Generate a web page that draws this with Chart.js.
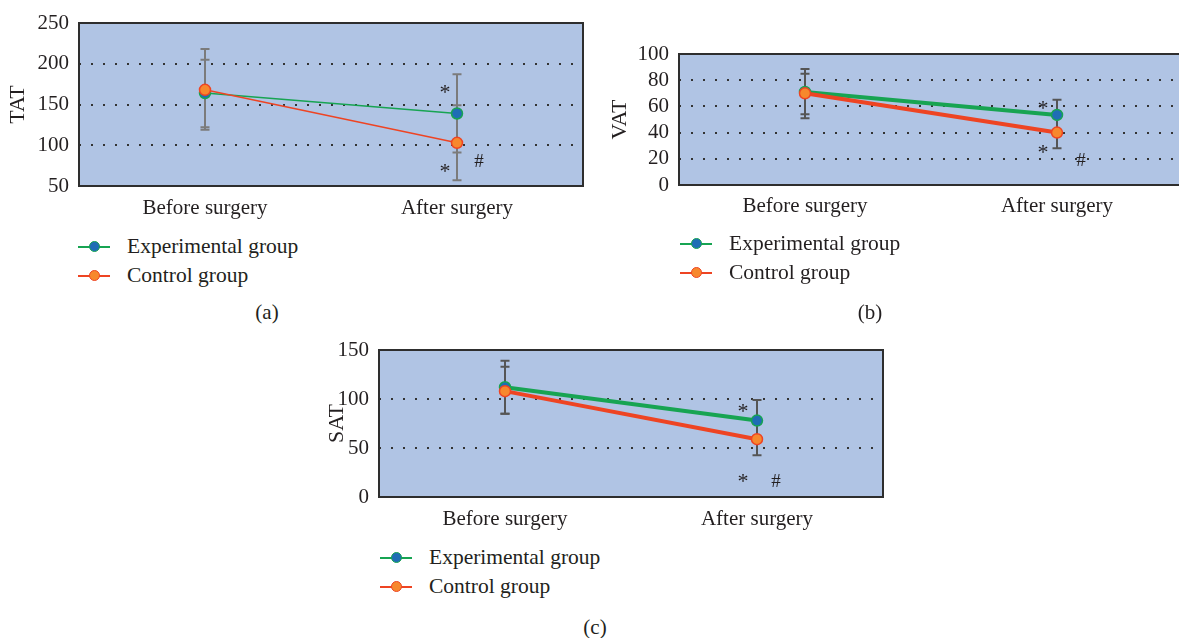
<!DOCTYPE html>
<html>
<head>
<meta charset="utf-8">
<script src="https://cdn.jsdelivr.net/npm/chart.js@4"></script>
<style>
    body {
        margin: 0;
        width: 1179px;
        height: 638px;
        overflow: hidden;
        position: relative;
        background: #fff;
        font-family: "Liberation Serif", serif;
        color: #231f20;
    }
    canvas {
        position: absolute;
    }
    .legend {
        position: absolute;
        font-size: 21.5px;
        line-height: 29px;
    }
    .legend .row {
        display: flex;
        align-items: center;
        height: 29px;
    }
    .legend .sym {
        position: relative;
        width: 32px;
        height: 2px;
        margin-right: 17px;
    }
    .legend .sym::after {
        content: '';
        position: absolute;
        left: 11px;
        top: -5px;
        width: 9px;
        height: 9px;
        border-radius: 50%;
        border: 1.5px solid var(--edge);
        background: var(--fill);
    }
    .tag {
        position: absolute;
        font-size: 21px;
        transform: translate(-50%, -50%);
    }
</style>
</head>
<body>
<canvas id="chart-tat" width="600" height="232" style="left:0;top:0"></canvas>
<canvas id="chart-vat" width="600" height="232" style="left:600px;top:0"></canvas>
<canvas id="chart-sat" width="600" height="240" style="left:300px;top:300px"></canvas>

<div class="legend" style="left:78px;top:232px"></div>
<div class="legend" style="left:680px;top:229px"></div>
<div class="legend" style="left:380px;top:543px"></div>

<div class="tag" style="left:267px;top:312px">(a)</div>
<div class="tag" style="left:870px;top:312px">(b)</div>
<div class="tag" style="left:595px;top:627px">(c)</div>

<script>
const categories = ['Before surgery', 'After surgery'];
const seriesNames = ['Experimental group', 'Control group'];

// TAT
const tatExperimental = [164, 139];
const tatControl = [168, 103];
const tatExperimentalLow = [122, 91];
const tatExperimentalHigh = [205, 187];
const tatControlLow = [119, 57];
const tatControlHigh = [218, 149];
const tatMarkValues = [169, 72, 79];

// VAT
const vatExperimental = [71, 53.5];
const vatControl = [70, 40];
const vatExperimentalLow = [54, 42];
const vatExperimentalHigh = [88.5, 65];
const vatControlLow = [51, 28];
const vatControlHigh = [85, 52];
const vatMarkValues = [61, 27, 18.5];

// SAT
const satExperimental = [112, 78];
const satControl = [108, 59];
const satExperimentalLow = [85, 57];
const satExperimentalHigh = [139, 99];
const satControlLow = [85, 42.5];
const satControlHigh = [133, 75];
const satMarkValues = [91, 19.5, 15];

const markSymbols = ['*', '*', '#'];

const colors = {
    expLine: '#17a452',
    expFill: '#1f6db5',
    ctrlLine: '#ee4423',
    ctrlFill: '#f7882d',
    plotBg: '#b0c4e4',
    frame: '#2e2e2e',
    grid: '#333',
    text: '#231f20',
};

const fontFamily = '"Liberation Serif", serif';

const plotFrame = {
    id: 'plotFrame',
    beforeDraw(chart) {
        const { ctx, chartArea: a } = chart;
        ctx.save();
        ctx.fillStyle = colors.plotBg;
        ctx.fillRect(a.left, a.top, a.right - a.left, a.bottom - a.top);
        ctx.restore();
    },
    beforeDatasetsDraw(chart) {
        const { ctx, chartArea: a } = chart;
        ctx.save();
        ctx.strokeStyle = colors.frame;
        ctx.lineWidth = 2;
        ctx.strokeRect(a.left, a.top, a.right - a.left, a.bottom - a.top);
        ctx.restore();
    },
};

const errorBars = {
    id: 'errorBars',
    beforeDatasetsDraw(chart, args, opts) {
        const { ctx, scales } = chart;
        ctx.save();
        ctx.strokeStyle = opts.color;
        ctx.lineWidth = opts.width;
        opts.ranges.forEach(([low, high]) => {
            low.forEach((lo, i) => {
                const x = scales.x.getPixelForValue(i);
                const y1 = scales.y.getPixelForValue(lo);
                const y2 = scales.y.getPixelForValue(high[i]);
                ctx.beginPath();
                ctx.moveTo(x, y1);
                ctx.lineTo(x, y2);
                ctx.moveTo(x - opts.cap, y1);
                ctx.lineTo(x + opts.cap, y1);
                ctx.moveTo(x - opts.cap, y2);
                ctx.lineTo(x + opts.cap, y2);
                ctx.stroke();
            });
        });
        ctx.restore();
    },
};

const markers = {
    id: 'markers',
    afterDatasetsDraw(chart, args, opts) {
        const { ctx, scales } = chart;
        const x0 = scales.x.getPixelForValue(1);
        ctx.save();
        ctx.fillStyle = colors.text;
        ctx.textAlign = 'center';
        ctx.textBaseline = 'middle';
        opts.values.forEach((v, i) => {
            const sym = markSymbols[i];
            const y = scales.y.getPixelForValue(v);
            if (sym === '*') {
                ctx.font = '22px ' + fontFamily;
                ctx.fillText(sym, x0 + opts.dx[i], y + 4);
            } else {
                ctx.font = '19px ' + fontFamily;
                ctx.fillText(sym, x0 + opts.dx[i], y);
            }
        });
        ctx.restore();
    },
};

function makeChart(id, cfg) {
    const canvas = document.getElementById(id);
    const lastIndex = (ctx) => ctx.scale.ticks.length - 1;
    return new Chart(canvas, {
        type: 'line',
        data: {
            labels: categories,
            datasets: [
                {
                    label: seriesNames[0],
                    data: cfg.experimental,
                    borderColor: colors.expLine,
                    borderWidth: cfg.lineWidth,
                    pointBackgroundColor: colors.expFill,
                    pointBorderColor: colors.expLine,
                    pointBorderWidth: 1.5,
                    pointRadius: 5.5,
                    tension: 0,
                    order: 1,
                },
                {
                    label: seriesNames[1],
                    data: cfg.control,
                    borderColor: colors.ctrlLine,
                    borderWidth: cfg.lineWidth,
                    pointBackgroundColor: colors.ctrlFill,
                    pointBorderColor: colors.ctrlLine,
                    pointBorderWidth: 1.5,
                    pointRadius: 5.5,
                    tension: 0,
                    order: 0,
                },
            ],
        },
        options: {
            responsive: false,
            animation: false,
            devicePixelRatio: 1,
            layout: {
                padding: { top: cfg.top, right: 17, left: 0, bottom: 0 },
            },
            scales: {
                x: {
                    offset: true,
                    grid: { display: false },
                    border: { display: false },
                    ticks: {
                        color: colors.text,
                        padding: cfg.xPad,
                        font: { family: fontFamily, size: 21 },
                    },
                    afterFit: (scale) => {
                        scale.height = cfg.xHeight;
                    },
                },
                y: {
                    min: cfg.min,
                    max: cfg.max,
                    border: { display: false, dash: [2, 10] },
                    grid: {
                        drawTicks: false,
                        lineWidth: 2,
                        color: (ctx) => (ctx.index === 0 || ctx.index === lastIndex(ctx) ? 'rgba(0,0,0,0)' : colors.grid),
                    },
                    ticks: {
                        stepSize: cfg.step,
                        autoSkip: false,
                        color: colors.text,
                        padding: 10,
                        font: { family: fontFamily, size: 21 },
                    },
                    title: {
                        display: true,
                        text: cfg.title,
                        color: colors.text,
                        padding: { top: cfg.titlePad, bottom: 0 },
                        font: { family: fontFamily, size: 22 },
                    },
                    afterFit: (scale) => {
                        scale.width = 79;
                    },
                },
            },
            plugins: {
                legend: { display: false },
                tooltip: { enabled: false },
                errorBars: {
                    ranges: cfg.ranges,
                    color: cfg.barColor,
                    width: 2,
                    cap: 4.5,
                },
                markers: {
                    values: cfg.marks,
                    dx: cfg.dx,
                },
            },
        },
        plugins: [plotFrame, errorBars, markers],
    });
}

makeChart('chart-tat', {
    title: 'TAT',
    experimental: tatExperimental,
    control: tatControl,
    ranges: [[tatExperimentalLow, tatExperimentalHigh], [tatControlLow, tatControlHigh]],
    marks: tatMarkValues,
    dx: [-12, -12, 22],
    min: 50, max: 250, step: 50,
    top: 23, xHeight: 46, xPad: 2, titlePad: 5,
    lineWidth: 1.5, barColor: '#7b7b7b',
});

makeChart('chart-vat', {
    title: 'VAT',
    experimental: vatExperimental,
    control: vatControl,
    ranges: [[vatExperimentalLow, vatExperimentalHigh], [vatControlLow, vatControlHigh]],
    marks: vatMarkValues,
    dx: [-14, -14, 24],
    min: 0, max: 100, step: 20,
    top: 54, xHeight: 47, xPad: 1, titlePad: 7.5,
    lineWidth: 4, barColor: '#555',
});

makeChart('chart-sat', {
    title: 'SAT',
    experimental: satExperimental,
    control: satControl,
    ranges: [[satExperimentalLow, satExperimentalHigh], [satControlLow, satControlHigh]],
    marks: satMarkValues,
    dx: [-14, -14, 19],
    min: 0, max: 150, step: 50,
    top: 50, xHeight: 43, xPad: 2, titlePad: 24,
    lineWidth: 4, barColor: '#555',
});

// legends
const legendSwatches = [
    { line: colors.expLine, fill: colors.expFill, edge: colors.expLine },
    { line: colors.ctrlLine, fill: colors.ctrlFill, edge: colors.ctrlLine },
];
document.querySelectorAll('.legend').forEach((box) => {
    seriesNames.forEach((name, i) => {
        const sw = legendSwatches[i];
        const row = document.createElement('div');
        row.className = 'row';
        const sym = document.createElement('span');
        sym.className = 'sym';
        sym.style.background = sw.line;
        sym.style.setProperty('--fill', sw.fill);
        sym.style.setProperty('--edge', sw.edge);
        const label = document.createElement('span');
        label.textContent = name;
        row.appendChild(sym);
        row.appendChild(label);
        box.appendChild(row);
    });
});
</script>
</body>
</html>
